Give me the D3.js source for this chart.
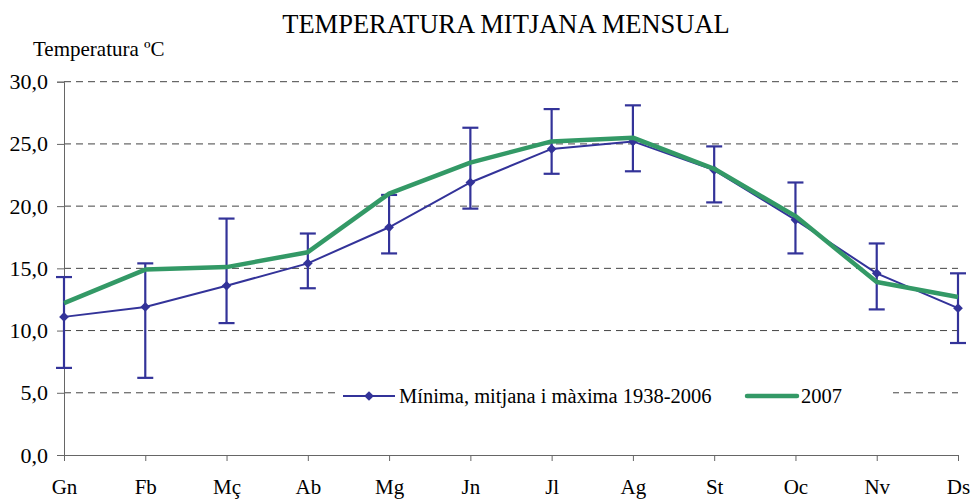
<!DOCTYPE html>
<html>
<head>
<meta charset="utf-8">
<script src="https://cdn.jsdelivr.net/npm/d3@7"></script>
<style>
  body { margin: 0; background: #fff; }
  svg text { font-family: "Liberation Serif", "Times New Roman", serif; fill: #000; }
</style>
</head>
<body>
<svg width="971" height="499"></svg>
<script>
var months = ["Gn", "Fb", "Mç", "Ab", "Mg", "Jn", "Jl", "Ag", "St", "Oc", "Nv", "Ds"];
var tMean = [11.1, 11.9, 13.6, 15.4, 18.3, 21.9, 24.6, 25.2, 22.9, 18.9, 14.6, 11.8];
var tMin = [7.0, 6.2, 10.6, 13.4, 16.2, 19.8, 22.6, 22.8, 20.3, 16.2, 11.7, 9.0];
var tMax = [14.3, 15.4, 19.0, 17.8, 20.9, 26.3, 27.8, 28.1, 24.8, 21.9, 17.0, 14.6];
var t2007 = [12.2, 14.9, 15.1, 16.3, 21.0, 23.5, 25.2, 25.5, 23.0, 19.2, 13.9, 12.7];
var yTicks = [0, 5, 10, 15, 20, 25, 30];

var svg = d3.select("svg"),
    blue = "#333399",
    green = "#339966",
    fmt = function(v) { return d3.format(".1f")(v).replace(".", ","); };

var x = d3.scalePoint()
    .domain(months)
    .range([64, 958]);

var y = d3.scaleLinear()
    .domain([0, 30])
    .range([455, 81.7]);

// title
svg.append("text")
    .attr("x", 506)
    .attr("y", 32.5)
    .attr("text-anchor", "middle")
    .style("font-size", "26.5px")
    .text("TEMPERATURA MITJANA MENSUAL");

svg.append("text")
    .attr("x", 33)
    .attr("y", 56)
    .style("font-size", "21px")
    .text("Temperatura ºC");

// grid lines
svg.append("g")
    .selectAll("line")
    .data(yTicks.filter(function(d) { return d > 0; }))
    .enter().append("line")
    .attr("x1", 64)
    .attr("x2", 958)
    .attr("y1", function(d) { return y(d); })
    .attr("y2", function(d) { return y(d); })
    .attr("stroke", "#444")
    .attr("stroke-width", 1)
    .attr("stroke-dasharray", "7,5");

// y axis
var yAxis = svg.append("g")
    .attr("transform", "translate(64,0)")
    .call(d3.axisLeft(y).tickValues(yTicks).tickFormat(fmt).tickSize(7).tickPadding(9));
yAxis.select(".domain").attr("stroke", "#666");
yAxis.selectAll(".tick line").attr("stroke", "#666");
yAxis.selectAll("text")
    .style("font-size", "22px");

// x axis
var xAxis = svg.append("g")
    .attr("transform", "translate(0,455)")
    .call(d3.axisBottom(x).tickSize(6).tickSizeOuter(0).tickPadding(18));
xAxis.select(".domain").attr("stroke", "#666");
xAxis.selectAll(".tick line").attr("stroke", "#666");
xAxis.selectAll("text")
    .style("font-size", "21px");

// legend background
svg.append("rect")
    .attr("x", 337)
    .attr("y", 378)
    .attr("width", 556)
    .attr("height", 34)
    .attr("fill", "#fff");

// error bars
var bars = svg.append("g")
    .selectAll("g")
    .data(months)
    .enter().append("g")
    .attr("stroke", blue)
    .attr("stroke-width", 2.2);
bars.append("line")
    .attr("x1", function(d) { return x(d); })
    .attr("x2", function(d) { return x(d); })
    .attr("y1", function(d, i) { return y(tMin[i]); })
    .attr("y2", function(d, i) { return y(tMax[i]); });
bars.append("line")
    .attr("x1", function(d) { return x(d) - 8; })
    .attr("x2", function(d) { return x(d) + 8; })
    .attr("y1", function(d, i) { return y(tMin[i]); })
    .attr("y2", function(d, i) { return y(tMin[i]); });
bars.append("line")
    .attr("x1", function(d) { return x(d) - 8; })
    .attr("x2", function(d) { return x(d) + 8; })
    .attr("y1", function(d, i) { return y(tMax[i]); })
    .attr("y2", function(d, i) { return y(tMax[i]); });

var line = d3.line()
    .x(function(d, i) { return x(months[i]); })
    .y(function(d) { return y(d); });

svg.append("path")
    .datum(tMean)
    .attr("d", line)
    .attr("fill", "none")
    .attr("stroke", blue)
    .attr("stroke-width", 2);

var diamond = d3.symbol().type(d3.symbolDiamond2).size(60);

svg.append("g")
    .selectAll("path")
    .data(tMean)
    .enter().append("path")
    .attr("d", diamond)
    .attr("transform", function(d, i) { return "translate(" + x(months[i]) + "," + y(d) + ")"; })
    .attr("fill", blue);

svg.append("path")
    .datum(t2007)
    .attr("d", line)
    .attr("fill", "none")
    .attr("stroke", green)
    .attr("stroke-width", 4.5)
    .attr("stroke-linejoin", "round");

// legend
var legend = svg.append("g");
legend.append("line")
    .attr("x1", 343).attr("x2", 395)
    .attr("y1", 396).attr("y2", 396)
    .attr("stroke", blue).attr("stroke-width", 2);
legend.append("path")
    .attr("d", diamond)
    .attr("transform", "translate(369,396)")
    .attr("fill", blue);
legend.append("text")
    .attr("x", 399)
    .attr("y", 403)
    .style("font-size", "20.5px")
    .text("Mínima, mitjana i màxima 1938-2006");
legend.append("line")
    .attr("x1", 747).attr("x2", 797)
    .attr("y1", 396).attr("y2", 396)
    .attr("stroke", green).attr("stroke-width", 4.5)
    .attr("stroke-linecap", "round");
legend.append("text")
    .attr("x", 801)
    .attr("y", 403)
    .style("font-size", "20.5px")
    .text("2007");
</script>
</body>
</html>
